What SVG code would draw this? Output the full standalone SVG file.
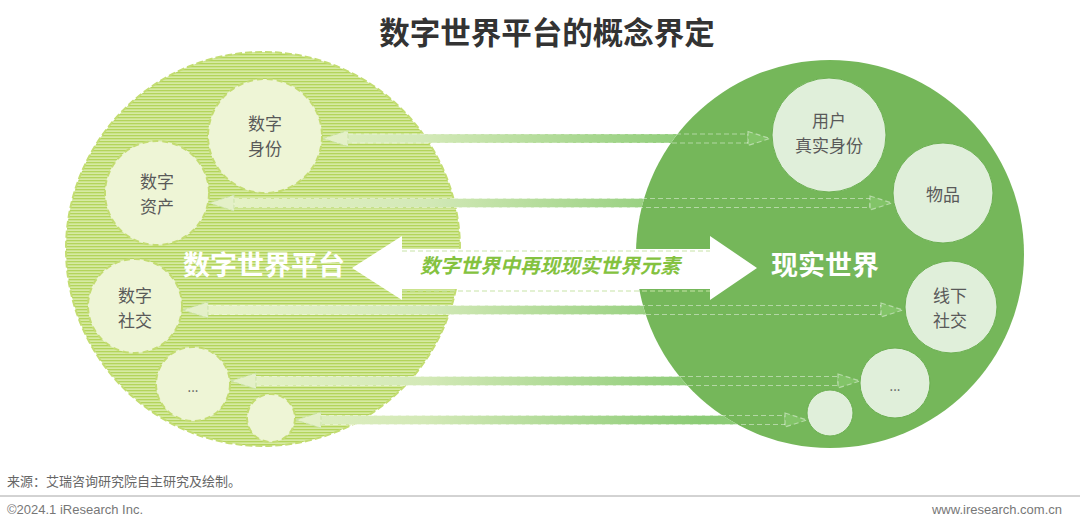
<svg xmlns="http://www.w3.org/2000/svg" width="1080" height="523" viewBox="0 0 1080 523">
<defs>
<pattern id="hatch" patternUnits="userSpaceOnUse" width="6" height="3">
<rect width="6" height="3" fill="#d6eaa2"/>
<rect width="6" height="1.3" fill="#b3d45b"/>
</pattern>
<linearGradient id="bandGrad" gradientUnits="userSpaceOnUse" x1="200" y1="0" x2="700" y2="0">
<stop offset="0" stop-color="#e8f3c8"/>
<stop offset="0.45" stop-color="#d3e9b7"/>
<stop offset="1" stop-color="#8bcb75"/>
</linearGradient>
<mask id="outR" maskUnits="userSpaceOnUse" x="0" y="0" width="1080" height="523">
<rect width="1080" height="523" fill="#fff"/>
<circle cx="830" cy="254" r="194" fill="#000"/>
</mask>
<style>
.lbl{font-family:"Noto Sans CJK SC","Liberation Sans",sans-serif;font-size:17px;fill:#595959;text-anchor:middle}
.lsm{fill:#eef5d6;stroke:#c3dc72;stroke-width:2;stroke-dasharray:6 4}
.rsm{fill:#e0efda;stroke:#6caf52;stroke-width:1}
.bandfill{fill:url(#bandGrad)}
.bandline{fill:none;stroke:#ffffff;stroke-opacity:0.45;stroke-width:1;stroke-dasharray:5 3}
.lhead{fill:#e4f0c8;stroke:#c9e2a4;stroke-width:1;stroke-dasharray:4 2}
.rhead{fill:#82c468;stroke:#ffffff;stroke-opacity:0.45;stroke-width:1.2;stroke-dasharray:5 3}
.big{font-family:"Noto Sans CJK SC","Liberation Sans",sans-serif;font-size:27px;font-weight:bold;fill:#ffffff;text-anchor:middle}
</style>
</defs>
<rect width="1080" height="523" fill="#ffffff"/>
<text x="547" y="44" text-anchor="middle" font-family="Noto Sans CJK SC, Liberation Sans, sans-serif" font-size="30.5" font-weight="bold" fill="#333333">数字世界平台的概念界定</text>

<g id="digital-world">
<circle cx="263" cy="249" r="197" fill="url(#hatch)" stroke="#c3dd72" stroke-width="2" stroke-dasharray="7 3"/>
</g>
<g id="real-world">
<circle cx="830" cy="254" r="194" fill="#75b75a"/>
</g>

<g id="connectors">
<g mask="url(#outR)">
<rect class="bandfill" x="348" y="134" width="400" height="9"/>
<rect class="bandfill" x="234" y="198.5" width="636" height="9"/>
<rect class="bandfill" x="208" y="305.5" width="673" height="9"/>
<rect class="bandfill" x="256" y="376.5" width="582" height="9"/>
<rect class="bandfill" x="321" y="415.5" width="464" height="9"/>
</g>
<rect class="bandline" x="348" y="134" width="400" height="9"/>
<rect class="bandline" x="234" y="198.5" width="636" height="9"/>
<rect class="bandline" x="208" y="305.5" width="673" height="9"/>
<rect class="bandline" x="256" y="376.5" width="582" height="9"/>
<rect class="bandline" x="321" y="415.5" width="464" height="9"/>
<polygon class="lhead" points="323,138.5 348,130.5 348,146.5"/>
<polygon class="lhead" points="209,203 234,195 234,211"/>
<polygon class="lhead" points="183,310 208,302 208,318"/>
<polygon class="lhead" points="231,381 256,373 256,389"/>
<polygon class="lhead" points="296,420 321,412 321,428"/>
<polygon class="rhead" points="748,131.5 770,138.5 748,145.5"/>
<polygon class="rhead" points="870,196 892,203 870,210"/>
<polygon class="rhead" points="881,303 903,310 881,317"/>
<polygon class="rhead" points="838,374 860,381 838,388"/>
<polygon class="rhead" points="785,413 807,420 785,427"/>
</g>

<g id="n-digital-identity">
<circle class="lsm" cx="265" cy="136" r="57"/>
<text class="lbl" x="265" y="130">数字</text>
<text class="lbl" x="265" y="155">身份</text>
</g>
<g id="n-digital-asset">
<circle class="lsm" cx="157" cy="193" r="52"/>
<text class="lbl" x="157" y="188">数字</text>
<text class="lbl" x="157" y="213">资产</text>
</g>
<g id="n-digital-social">
<circle class="lsm" cx="135" cy="306" r="47"/>
<text class="lbl" x="135" y="302">数字</text>
<text class="lbl" x="135" y="327">社交</text>
</g>
<g id="n-digital-more">
<circle class="lsm" cx="193" cy="384" r="37"/>
<text class="lbl" x="193" y="392" style="font-size:13px">...</text>
</g>
<g id="n-digital-small">
<circle class="lsm" cx="271" cy="418" r="24"/>
</g>

<g id="n-real-identity">
<circle class="rsm" cx="829" cy="135" r="57"/>
<text class="lbl" x="829" y="127">用户</text>
<text class="lbl" x="829" y="152">真实身份</text>
</g>
<g id="n-real-goods">
<circle class="rsm" cx="943" cy="193" r="50"/>
<text class="lbl" x="943" y="201">物品</text>
</g>
<g id="n-real-social">
<circle class="rsm" cx="951" cy="307" r="46"/>
<text class="lbl" x="950" y="302">线下</text>
<text class="lbl" x="950" y="327">社交</text>
</g>
<g id="n-real-more">
<circle class="rsm" cx="895" cy="383" r="35"/>
<text class="lbl" x="895" y="391" style="font-size:13px">...</text>
</g>
<g id="n-real-small">
<circle class="rsm" cx="830" cy="413" r="23"/>
</g>

<g id="center-arrow">
<polygon points="352,268 402,236 402,249 710,249 710,236 757,268 710,300 710,289 402,289 402,300" fill="#ffffff"/>
<line x1="402" y1="251" x2="710" y2="251" stroke="#c7e3a6" stroke-width="1" stroke-dasharray="5 3"/>
<line x1="402" y1="291" x2="710" y2="291" stroke="#c7e3a6" stroke-width="1" stroke-dasharray="5 3"/>
<text x="550" y="273" text-anchor="middle" font-family="Noto Sans CJK SC, Liberation Sans, sans-serif" font-size="20" font-weight="bold" font-style="italic" fill="#84c23f">数字世界中再现现实世界元素</text>
</g>

<text class="big" x="264" y="275">数字世界平台</text>
<text class="big" x="825" y="275">现实世界</text>

<g id="footer">
<text x="7" y="486" font-family="Noto Sans CJK SC, Liberation Sans, sans-serif" font-size="13" fill="#666666">来源：艾瑞咨询研究院自主研究及绘制。</text>
<line x1="0" y1="496" x2="1080" y2="496" stroke="#a6a6a6" stroke-width="1"/>
<text x="7" y="514" font-family="Liberation Sans, Arial, sans-serif" font-size="13" fill="#777777">©2024.1 iResearch Inc.</text>
<text x="1062" y="514" text-anchor="end" font-family="Liberation Sans, Arial, sans-serif" font-size="13" fill="#777777">www.iresearch.com.cn</text>
</g>
</svg>
